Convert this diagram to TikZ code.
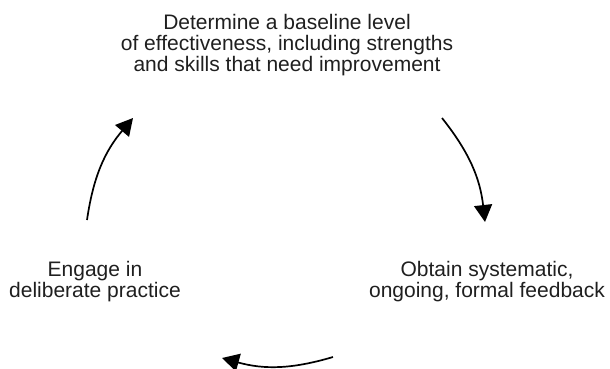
\documentclass[tikz,border=0pt]{standalone}
\usepackage{fontspec}
\setmainfont{Liberation Sans}
\usetikzlibrary{arrows.meta}

\begin{document}
\begin{tikzpicture}[
    x=1pt, y=-1pt,
    font=\fontsize{21}{20.8}\selectfont,
    stage/.style={align=center, inner sep=0pt, text=black!88},
    turn/.style={draw=black, line width=1.7pt, -{Triangle[width=18pt,length=17pt]}},
  ]
  \useasboundingbox (0,0) rectangle (610,369);

  % The three stages of the improvement cycle (base = last line).
  \node[stage, anchor=base] (baseline) at (287,71.5)
    {Determine a baseline level\\of effectiveness, including strengths\\and skills that need improvement};
  \node[stage, anchor=base] (feedback) at (487,297)
    {Obtain systematic,\\ongoing, formal feedback};
  \node[stage, anchor=base] (practice) at (95,297)
    {Engage in\\deliberate practice};

  % Free ends of the arrows that run round the cycle.
  \coordinate (topstart) at (442,118);
  \coordinate (topend) at (485,222);
  \coordinate (lowstart) at (333,357);
  \coordinate (lowend) at (222,358);
  \coordinate (leftstart) at (87,220);
  \coordinate (leftend) at (133,118);

  \draw[turn] (topstart) to[bend left=16] (topend);
  \draw[turn] (lowstart) to[bend left=16] (lowend);
  \draw[turn] (leftstart) to[bend left=16] (leftend);
\end{tikzpicture}
\end{document}
